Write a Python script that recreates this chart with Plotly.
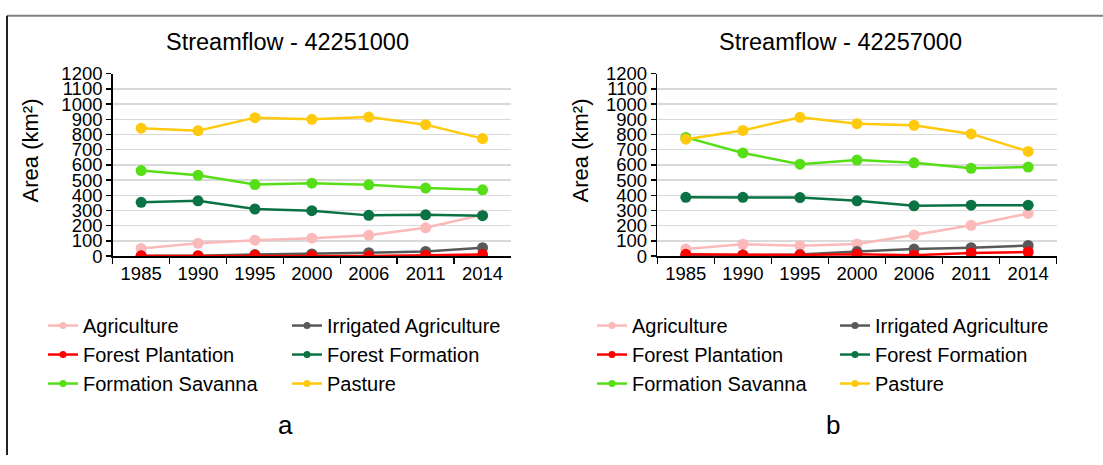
import plotly.graph_objects as go

years = ["1985", "1990", "1995", "2000", "2006", "2011", "2014"]
y_ticks = list(range(0, 1300, 100))

series_names = ["Agriculture", "Irrigated Agriculture", "Forest Plantation",
                "Forest Formation", "Formation Savanna", "Pasture"]
series_colors = ["#FBB9BA", "#595959", "#FF0000", "#0B7343", "#56DE16", "#FFC90E"]

# Panel a - Streamflow 42251000
a_agriculture = [50, 84, 105, 118, 137, 186, 272]
a_irrigated = [2, 3, 10, 14, 22, 31, 55]
a_plantation = [1, 1, 5, 2, 1, 6, 10]
a_forest = [354, 364, 310, 299, 268, 272, 266]
a_savanna = [563, 532, 471, 480, 469, 448, 436]
a_pasture = [842, 825, 911, 900, 915, 865, 773]

# Panel b - Streamflow 42257000
b_agriculture = [46, 78, 68, 80, 139, 203, 281]
b_irrigated = [2, 8, 10, 30, 46, 55, 70]
b_plantation = [12, 8, 8, 12, 6, 21, 27]
b_forest = [387, 387, 385, 364, 331, 335, 335]
b_savanna = [781, 679, 605, 632, 614, 578, 586]
b_pasture = [769, 827, 913, 871, 861, 804, 689]

titles = ["Streamflow - 42251000", "Streamflow - 42257000"]
panel_labels = ["a", "b"]
y_title = "Area (km²)"

panels = [
    [a_agriculture, a_irrigated, a_plantation, a_forest, a_savanna, a_pasture],
    [b_agriculture, b_irrigated, b_plantation, b_forest, b_savanna, b_pasture],
]

W, H = 1103, 465
FONT = "Arial, Liberation Sans, sans-serif"

fig = go.Figure()

for p, data in enumerate(panels):
    xa = "x" if p == 0 else "x2"
    ya = "y" if p == 0 else "y2"
    for i, (name, color, vals) in enumerate(zip(series_names, series_colors, data)):
        fig.add_trace(go.Scatter(
            x=years, y=vals, name=name, mode="lines+markers",
            line=dict(color=color, width=2.5),
            marker=dict(color=color, size=11),
            xaxis=xa, yaxis=ya, showlegend=False, hoverinfo="skip",
        ))
    # legend entries (two columns per panel)
    for i, (name, color) in enumerate(zip(series_names, series_colors)):
        col = i % 2
        leg = ["legend", "legend2", "legend3", "legend4"][p * 2 + col]
        fig.add_trace(go.Scatter(
            x=[None], y=[None], name=name, mode="lines+markers",
            line=dict(color=color, width=2.5),
            marker=dict(color=color, size=7),
            xaxis=xa, yaxis=ya, showlegend=True, legend=leg,
        ))

x_domains = [[112.7 / W, 511.0 / W], [657.3 / W, 1056.7 / W]]
y_domain = [(H - 256.7) / H, (H - 65.7) / H]

axis_common_x = dict(
    type="category", range=[-0.5, 6.5], tickson="boundaries",
    ticks="outside", ticklen=6, tickcolor="black", tickwidth=1.5,
    showline=True, linecolor="black", linewidth=1.5,
    showgrid=False, zeroline=False,
    tickfont=dict(family=FONT, size=18.5, color="black"), fixedrange=True,
)
axis_common_y = dict(
    range=[0, 1200], tickvals=y_ticks,
    ticks="outside", ticklen=5, tickcolor="black", tickwidth=1.5,
    showline=True, linecolor="black", linewidth=1.5,
    showgrid=True, gridcolor="#D9D9D9", gridwidth=1.5, zeroline=False,
    tickfont=dict(family=FONT, size=18.5, color="black"), fixedrange=True,
)

leg_common = dict(
    orientation="v", yanchor="top", xanchor="left",
    font=dict(family=FONT, size=20, color="black"),
    bgcolor="rgba(0,0,0,0)", borderwidth=0, tracegroupgap=0,
)
leg_top = (H - 309) / H

fig.update_layout(
    width=W, height=H,
    margin=dict(l=0, r=0, t=0, b=0),
    paper_bgcolor="white", plot_bgcolor="white",
    font=dict(family=FONT, color="black"),
    xaxis=dict(domain=x_domains[0], anchor="y", **axis_common_x),
    yaxis=dict(domain=y_domain, anchor="x", **axis_common_y),
    xaxis2=dict(domain=x_domains[1], anchor="y2", **axis_common_x),
    yaxis2=dict(domain=y_domain, anchor="x2", **axis_common_y),
    legend=dict(x=43 / W, y=leg_top, **leg_common),
    legend2=dict(x=287 / W, y=leg_top, **leg_common),
    legend3=dict(x=592 / W, y=leg_top, **leg_common),
    legend4=dict(x=835 / W, y=leg_top, **leg_common),
)

title_x = [287, 840]
ytitle_x = [30, 580]
label_x = [285, 833]
for p in range(2):
    fig.add_annotation(text=titles[p], x=title_x[p] / W, y=(H - 32) / H,
                       xref="paper", yref="paper", showarrow=False,
                       xanchor="center", yanchor="middle",
                       font=dict(family=FONT, size=23.5, color="black"))
    fig.add_annotation(text=y_title, x=ytitle_x[p] / W, y=(H - 146) / H,
                       xref="paper", yref="paper", showarrow=False, textangle=-90,
                       xanchor="center", yanchor="middle",
                       font=dict(family=FONT, size=22, color="black"))
    fig.add_annotation(text=panel_labels[p], x=label_x[p] / W, y=(H - 434) / H,
                       xref="paper", yref="paper", showarrow=False,
                       xanchor="center", yanchor="middle",
                       font=dict(family=FONT, size=26, color="black"))

# frame lines of the figure
fig.add_shape(type="line", xref="paper", yref="paper",
              x0=7 / W, x1=1, y0=(H - 5) / H, y1=(H - 5) / H,
              line=dict(color="#7F7F7F", width=2))
fig.add_shape(type="line", xref="paper", yref="paper",
              x0=7 / W, x1=7 / W, y0=0, y1=(H - 5) / H,
              line=dict(color="#222222", width=2))

fig.write_html("out.html",
               config={"displayModeBar": False, "staticPlot": True},
               post_script="document.body.style.margin='0';document.body.style.overflow='hidden';")
